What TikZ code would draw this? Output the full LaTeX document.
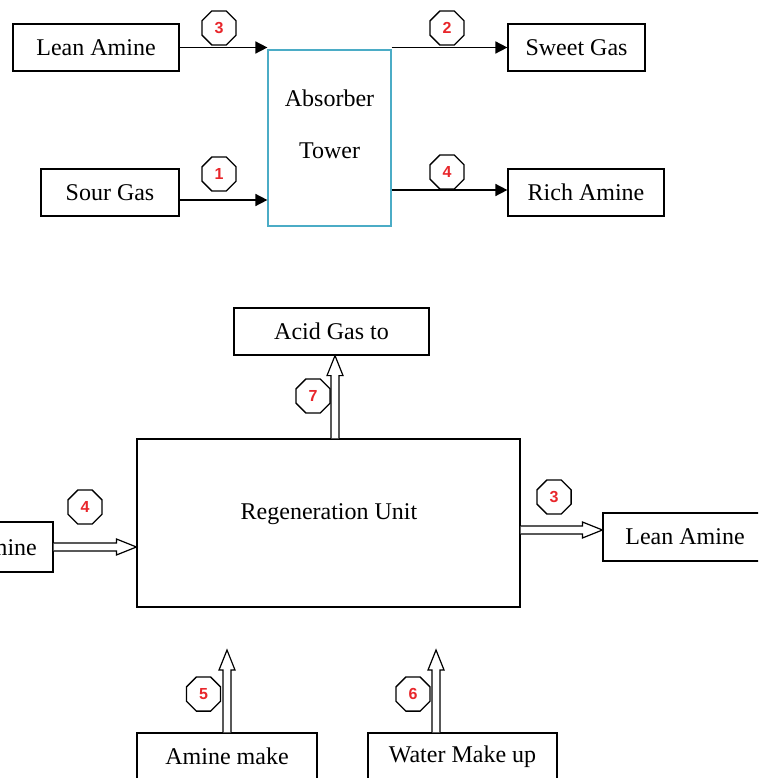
\documentclass[tikz,border=0pt]{standalone}
\usepackage{fontspec}
\setmainfont{Liberation Serif}
\newfontfamily\numfont{Liberation Sans}
\usetikzlibrary{shapes.geometric,arrows.meta,calc}
\definecolor{twred}{HTML}{E8262B}
\definecolor{twcyan}{HTML}{4BACC6}
\tikzset{
  box/.style={draw, line width=1.2pt, minimum height=47pt, inner sep=0pt, font=\fontsize{24}{28}\selectfont},
  txt/.style={inner sep=0pt, font=\fontsize{24}{28}\selectfont},
  oct/.style={draw, regular polygon, regular polygon sides=8, minimum size=37pt, inner sep=0pt, line width=1.3pt, font=\numfont\bfseries\fontsize{16}{16}\selectfont, text=twred},
  flow/.style={line width=1.6pt, -{Triangle[length=12pt,width=12pt]}},
  fat/.style={draw, line width=1.2pt, fill=white}
}
\newcommand\fatright[2]{\draw[fat] let \p1=(#1), \p2=(#2) in (\x1,\y1+4pt) -- (\x2-20pt,\y1+4pt) -- (\x2-20pt,\y1+8pt) -- (\x2,\y1) -- (\x2-20pt,\y1-8pt) -- (\x2-20pt,\y1-4pt) -- (\x1,\y1-4pt);}
\newcommand\fatup[2]{\draw[fat] let \p1=(#1), \p2=(#2) in (\x1-4pt,\y1) -- (\x1-4pt,\y2-20pt) -- (\x1-8pt,\y2-20pt) -- (\x1,\y2) -- (\x1+8pt,\y2-20pt) -- (\x1+4pt,\y2-20pt) -- (\x1+4pt,\y1);}
\begin{document}
\begin{tikzpicture}[x=1pt,y=-1pt]
\useasboundingbox (0,0) rectangle (758,778);
\clip (0,0) rectangle (758,778);
% top part
\node[box, minimum width=166pt] (lean1) at (96,47.5) {Lean Amine};
\node[box, minimum width=138pt] (sour) at (110,192.5) {Sour Gas};
\node[draw=twcyan, line width=1.2pt, minimum width=123pt, minimum height=176pt, inner sep=0pt] (tower) at (329.5,138) {};
\node[txt] (tw1) at (329.5,98) {Absorber};
\node[txt] (tw2) at (329.5,151) {Tower};
\node[box, minimum width=137pt] (sweet) at (576.5,47.5) {Sweet Gas};
\node[box, minimum width=156pt] (rich1) at (586,192.5) {Rich Amine};
\draw[flow] (lean1.east) -- (lean1.east -| tower.west);
\draw[flow] ([yshift=-7.5pt]sour.east) -- ([yshift=-7.5pt]sour.east -| tower.west);
\draw[flow] (lean1.east -| tower.east) -- (sweet.west);
\draw[flow] ([yshift=2.5pt]rich1.west -| tower.east) -- ([yshift=2.5pt]rich1.west);
\node[oct] (o3a) at (219,28) {3};
\node[oct] (o1) at (219,174) {1};
\node[oct] (o2) at (447,28) {2};
\node[oct] (o4a) at (447,172) {4};
% bottom part
\node[box, minimum width=195pt] (acid) at (331.5,331.5) {Acid Gas to};
\node[draw, line width=1.2pt, minimum width=383pt, minimum height=168pt, inner sep=0pt] (regen) at (328.5,523) {};
\node[txt] (regtxt) at (329,514) {Regeneration Unit};
\node[box, minimum width=149pt, minimum height=50pt] (rich2) at (-21.5,547) {Rich Amine};
\node[box, minimum width=164pt, minimum height=48pt] (lean2) at (685,537) {Lean Amine};
\node[box, minimum width=180pt] (amine) at (227,756.5) {Amine make};
\node[box, minimum width=189pt] (water) at (462.5,756.5) {Water Make up};
\coordinate (a5) at (227,650);
\coordinate (a6) at (436,650);
\fatup{[xshift=6.5pt]regen.north}{[xshift=6.5pt]regen.north |- acid.south}
\fatright{rich2.east}{rich2.east -| regen.west}
\fatright{[yshift=7pt]lean2.west -| regen.east}{[yshift=7pt]lean2.west}
\fatup{amine.north}{a5}
\fatup{[xshift=-26.5pt]water.north}{a6}
\node[oct] (o7) at (313,396) {7};
\node[oct] (o4b) at (85,507) {4};
\node[oct] (o3b) at (554,497) {3};
\node[oct] (o5) at (203.5,694) {5};
\node[oct] (o6) at (413,694) {6};
\end{tikzpicture}
\end{document}
